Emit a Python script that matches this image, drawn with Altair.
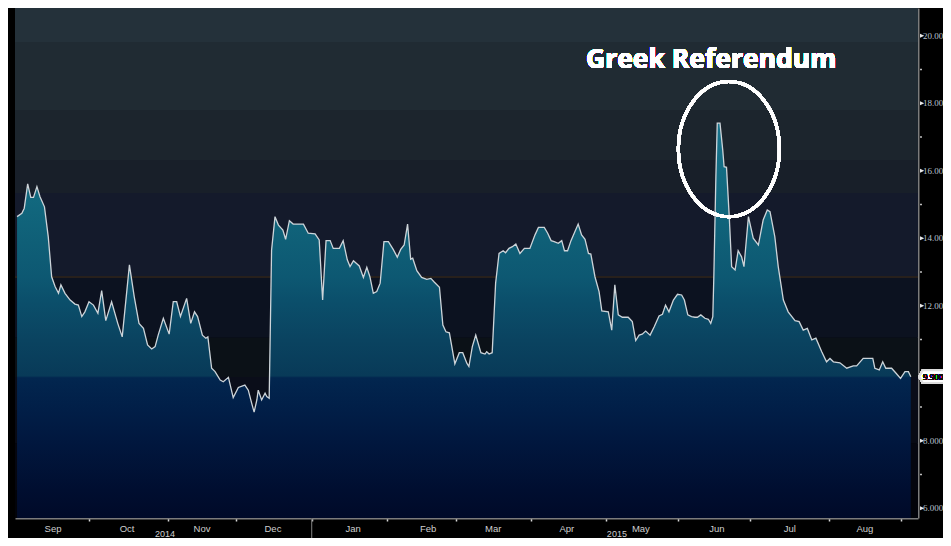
import altair as alt
import pandas as pd

# ---- data (trading-day index, implied vol) ----
days = [0.0, 1.4, 2.1, 3.1, 4.0, 4.8, 5.8, 6.7, 8.0, 9.1, 10.1, 11.1, 12.1, 12.8, 14.0, 15.5, 16.9, 17.9,
        18.9, 19.8, 21.0, 22.3, 23.6, 24.7, 25.9, 27.6, 29.4, 30.7, 32.8, 34.2, 35.6, 36.9, 38.1, 39.3,
        40.3, 41.2, 42.7, 44.4, 45.6, 46.6, 47.7, 49.5, 50.7, 51.8, 52.7, 54.1, 55.1, 55.7, 56.8, 57.8,
        59.3, 60.2, 61.7, 63.1, 64.6, 66.5, 67.5, 68.5, 69.2, 70.0, 70.4, 71.4, 72.4, 72.9, 73.6, 74.3,
        75.3, 76.3, 77.6, 78.4, 79.5, 80.6, 83.6, 85.0, 87.0, 88.2, 89.2, 90.2, 91.4, 92.3, 94.1, 95.2,
        96.4, 97.2, 98.2, 99.9, 101.1, 102.1, 103.0, 104.0, 105.0, 106.0, 107.1, 108.4, 109.8, 111.0,
        112.0, 113.0, 114.0, 114.9, 115.5, 116.7, 118.1, 119.6, 120.8, 121.7, 123.3, 124.3, 125.2, 126.2,
        127.8, 129.1, 130.1, 131.3, 131.9, 132.9, 133.9, 135.4, 136.6, 137.1, 137.8, 138.7, 139.7, 140.7,
        141.9, 142.6, 143.6, 144.6, 145.6, 146.8, 148.1, 149.7, 151.2, 152.2, 153.9, 154.9, 155.9, 156.8,
        158.0, 159.0, 159.8, 160.7, 161.7, 163.8, 164.8, 165.8, 166.8, 167.5, 168.7, 169.9, 170.7, 172.6,
        173.6, 174.5, 175.5, 176.7, 178.4, 179.6, 180.6, 181.6, 182.5, 183.5, 184.8, 186.0, 187.4, 188.4,
        189.3, 190.3, 191.6, 192.8, 194.0, 194.8, 195.8, 196.9, 197.9, 198.6, 199.6, 200.8, 201.8, 202.5,
        203.1, 203.4, 204.0, 204.4, 205.2, 206.0, 206.4, 207.1, 207.9, 208.6, 209.6, 210.5, 211.5, 212.2,
        213.5, 214.9, 216.4, 217.8, 219.0, 219.8, 221.2, 222.2, 223.7, 225.1, 227.1, 228.3, 229.5, 230.7,
        232.0, 233.2, 234.9, 236.3, 237.3, 238.3, 240.2, 242.2, 244.1, 245.1, 247.0, 249.8, 250.4, 251.7,
        252.7, 253.6, 255.3, 256.6, 257.9, 259.2, 260.2, 260.9]
vols = [14.64, 14.74, 14.89, 15.61, 15.21, 15.21, 15.53, 15.23, 14.93, 14.05, 12.86, 12.57, 12.37, 12.62,
        12.37, 12.17, 12.05, 12.02, 11.68, 11.82, 12.12, 12.02, 11.78, 12.45, 11.56, 12.12, 11.48, 11.08,
        13.21, 12.27, 11.48, 11.33, 10.84, 10.72, 10.79, 11.13, 11.63, 11.16, 12.12, 12.12, 11.68, 12.22,
        11.48, 11.82, 11.68, 11.13, 11.04, 11.08, 10.15, 10.05, 9.80, 9.75, 9.88, 9.28, 9.58, 9.65, 9.50,
        9.11, 8.85, 9.21, 9.50, 9.21, 9.41, 9.31, 9.26, 13.65, 14.64, 14.39, 14.24, 13.97, 14.52, 14.42,
        14.42, 14.15, 14.13, 13.95, 12.17, 13.93, 13.93, 13.70, 13.70, 13.93, 13.36, 13.16, 13.33, 13.18,
        12.84, 13.14, 12.86, 12.37, 12.42, 12.67, 13.90, 13.90, 13.67, 13.44, 13.67, 13.80, 14.42, 13.38,
        13.41, 13.04, 12.84, 12.78, 12.81, 12.71, 12.55, 11.43, 11.23, 11.20, 10.28, 10.61, 10.61, 10.30,
        10.20, 10.79, 11.13, 10.61, 10.57, 10.64, 10.57, 10.61, 12.67, 13.55, 13.63, 13.57, 13.70, 13.75,
        13.83, 13.55, 13.70, 13.70, 14.10, 14.32, 14.32, 14.15, 13.93, 13.90, 13.85, 13.93, 13.63, 13.63,
        13.93, 14.42, 14.10, 13.97, 13.55, 13.53, 12.86, 12.42, 11.85, 11.82, 11.28, 12.62, 11.73, 11.66,
        11.66, 11.53, 10.97, 11.13, 11.16, 11.25, 11.13, 11.38, 11.70, 11.75, 12.02, 11.82, 12.17, 12.34,
        12.32, 12.17, 11.73, 11.68, 11.66, 11.66, 11.73, 11.63, 11.60, 11.48, 11.68, 12.86, 15.82, 17.41,
        17.41, 16.61, 16.12, 16.10, 14.64, 13.16, 13.06, 13.63, 13.45, 13.16, 14.64, 14.00, 13.80, 14.54,
        14.84, 14.79, 14.05, 13.16, 12.17, 11.82, 11.56, 11.53, 11.28, 11.33, 10.99, 11.04, 10.64, 10.34,
        10.44, 10.34, 10.31, 10.15, 10.22, 10.22, 10.44, 10.44, 10.15, 10.10, 10.34, 10.15, 10.15, 10.00,
        9.85, 10.05, 10.05, 9.90]

months = ["Sep", "Oct", "Nov", "Dec", "Jan", "Feb", "Mar", "Apr", "May", "Jun", "Jul", "Aug"]
month_centers = [10.5, 32.1, 54.0, 74.7, 98.1, 120.0, 139.0, 160.5, 182.1, 204.3, 225.6, 247.5]
month_starts = [21, 44, 64, 86, 108, 128, 150, 172, 193, 214, 237, 258]
years = ["2014", "2015"]
year_centers = [43.2, 175.1]
year_break = 86
last_label = "9.900"
last_value = 9.90
y_major = [6, 8, 12, 14, 16, 18, 20]
y_major_labels = ["6.000", "8.000", "12.00", "14.00", "16.00", "18.00", "20.00"]
y_minor = [7, 9, 11, 13, 15, 17, 19]
annotation = "Greek Referendum"
annot_day, annot_vol = 202.6, 19.05
circle_day, circle_vol = 207.8, 16.64

XMIN, XMAX = -0.6, 263.0
YMIN, YMAX = 5.714, 20.82
Y_MONTH, Y_YEAR, Y_SEP_BOTTOM = 5.30, 5.15, 5.12

# background bands (style)
band_edges = [5.714, 6.54, 7.93, 8.91, 9.89, 11.05, 12.85, 15.34, 16.32, 17.80, 19.81, 20.82]
band_colors = ["#020309", "#05060f", "#080a14", "#0a0d19", "#0b1117", "#0c1220",
               "#141a2b", "#181f29", "#1c252d", "#202b33", "#24313a"]

df = pd.DataFrame({"day": days, "vol": vols})
bands = pd.DataFrame({"lo": band_edges[:-1], "hi": band_edges[1:], "c": band_colors})
mdf = pd.DataFrame({"m": months, "d": month_centers})
ydf = pd.DataFrame({"y": years, "d": year_centers})
ymaj = pd.DataFrame({"v": y_major, "t": y_major_labels})
ymin_df = pd.DataFrame({"v": y_minor})

xs = alt.Scale(domain=[XMIN, XMAX], nice=False, zero=False)
ys = alt.Scale(domain=[YMIN, YMAX], nice=False, zero=False)

xaxis = alt.Axis(
    values=month_starts, labels=False, title=None, grid=False,
    tickSize=3, tickWidth=1.5, tickColor="#d8d8d8",
    domainColor="#7c7c7c", domainWidth=2)
yaxis = alt.Axis(
    orient="right", labels=False, ticks=False, title=None, grid=False,
    domainColor="#7c7c7c", domainWidth=2)

bg = alt.Chart(bands).mark_rect().encode(
    x=alt.datum(XMIN, scale=xs, axis=xaxis), x2=alt.datum(XMAX),
    y=alt.Y("lo:Q", scale=ys, axis=yaxis), y2="hi:Q",
    fill=alt.Fill("c:N", scale=None),
)

brown = alt.Chart(bands).mark_rule(color="#2a221d", strokeWidth=1).encode(
    x=alt.datum(XMIN), x2=alt.datum(XMAX), y=alt.datum(12.85)
)

grad = alt.Gradient(
    gradient="linear", x1=0, x2=0, y1=0, y2=1,
    stops=[
        alt.GradientStop(offset=0.0, color="#17738c"),
        alt.GradientStop(offset=0.18, color="#12697f"),
        alt.GradientStop(offset=0.30, color="#0f5f77"),
        alt.GradientStop(offset=0.39, color="#0d5872"),
        alt.GradientStop(offset=0.45, color="#0b4f6b"),
        alt.GradientStop(offset=0.55, color="#0a4360"),
        alt.GradientStop(offset=0.640, color="#083a58"),
        alt.GradientStop(offset=0.645, color="#02264f"),
        alt.GradientStop(offset=0.73, color="#011e47"),
        alt.GradientStop(offset=0.81, color="#01173e"),
        alt.GradientStop(offset=0.93, color="#000e30"),
        alt.GradientStop(offset=1.0, color="#000a28"),
    ],
)

area = alt.Chart(df).mark_area(color=grad, opacity=1).encode(
    x=alt.X("day:Q", scale=xs, axis=xaxis),
    y=alt.Y("vol:Q", scale=ys, axis=yaxis),
    y2=alt.datum(YMIN),
)

line = alt.Chart(df).mark_line(color="#cdd4d9", strokeWidth=1.3).encode(
    x=alt.X("day:Q", axis=xaxis), y=alt.Y("vol:Q", axis=yaxis)
)

ellipse_path = "M-0.743,0A0.743,0.993,0,1,0,0.743,0A0.743,0.993,0,1,0,-0.743,0Z"
ellipse = alt.Chart(df).mark_point(
    shape=ellipse_path, size=18496, filled=False, color="white", strokeWidth=3, opacity=1
).encode(x=alt.datum(circle_day), y=alt.datum(circle_vol))

note = alt.Chart(df).mark_text(
    text=annotation, font="Open Sans", fontWeight="bold", fontSize=26.5, color="white",
    align="center", baseline="alphabetic"
).encode(x=alt.datum(annot_day), y=alt.datum(annot_vol))

mlab = alt.Chart(mdf).mark_text(
    font="Liberation Sans", fontSize=9.5, color="#cfcfcf", baseline="alphabetic", align="center"
).encode(x=alt.X("d:Q", axis=xaxis), y=alt.datum(Y_MONTH), text="m:N")

ylab = alt.Chart(ydf).mark_text(
    font="Liberation Sans", fontSize=9, color="#cfcfcf", baseline="alphabetic", align="center"
).encode(x=alt.X("d:Q", axis=xaxis), y=alt.datum(Y_YEAR), text="y:N")

ysep = alt.Chart(ydf).mark_rule(color="#6a6a6a", strokeWidth=1).encode(
    x=alt.datum(year_break), y=alt.datum(YMIN), y2=alt.datum(Y_SEP_BOTTOM)
)

# right-hand value axis: ticks and labels
tri = "M0.4,-0.4L1.25,0L0.4,0.4Z"
major_ticks = alt.Chart(ymaj).mark_point(
    shape=tri, size=100, filled=True, color="#e8e8e8", opacity=1
).encode(x=alt.datum(XMAX), y=alt.Y("v:Q", axis=yaxis))

minor_ticks = alt.Chart(ymin_df).mark_point(
    shape="M0.4,-0.15L0.8,-0.15L0.8,0.15L0.4,0.15Z", size=100, filled=True,
    color="#bfbfbf", opacity=1
).encode(x=alt.datum(XMAX), y=alt.Y("v:Q", axis=yaxis))

major_labels = alt.Chart(ymaj).mark_text(
    font="Liberation Serif", fontSize=9, color="#b9c2cf", align="left",
    baseline="middle", dx=5
).encode(x=alt.datum(XMAX), y=alt.Y("v:Q", axis=yaxis), text="t:N")

tag_path = "M0.03,0L0.12,-0.16L0.95,-0.16L0.95,0.16L0.12,0.16Z"
tag = alt.Chart(df).mark_point(
    shape=tag_path, size=6400, filled=True, fill="white", stroke="#dddddd", opacity=1
).encode(x=alt.datum(XMAX), y=alt.datum(last_value))

tagtext = alt.Chart(df).mark_text(
    text=last_label, font="Liberation Serif", fontSize=9, color="#111111",
    align="left", baseline="middle", dx=5
).encode(x=alt.datum(XMAX), y=alt.datum(last_value))

chart = alt.layer(
    bg, brown, area, line, ellipse, note, mlab, ylab, ysep,
    major_ticks, minor_ticks, major_labels, tag, tagtext
).properties(
    width=903, height=510,
    padding={"left": 7, "top": 0, "right": 25, "bottom": 20},
    autosize=alt.AutoSizeParams(type="none"),
    background="#000000",
).configure_view(stroke=None)

chart.save("out.html", embed_options={"renderer": "svg", "actions": False})
